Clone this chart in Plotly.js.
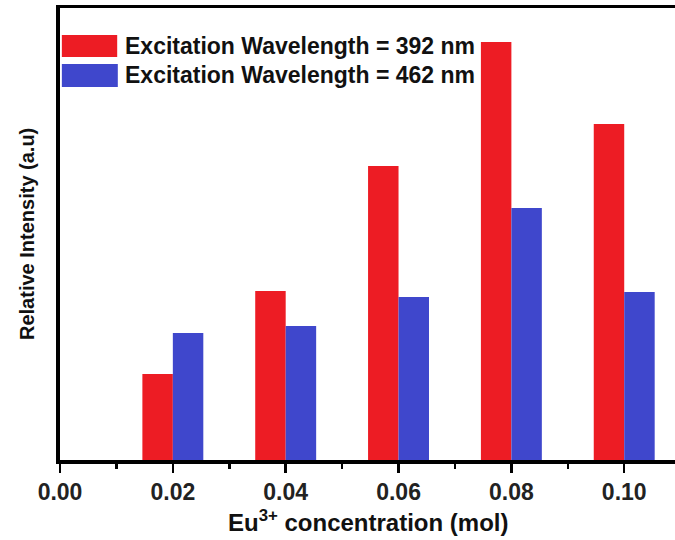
<!DOCTYPE html>
<html>
<head>
<meta charset="utf-8">
<script src="https://cdn.plot.ly/plotly-3.0.1.min.js"></script>
<style>html,body{margin:0;padding:0;background:#fff;overflow:hidden;}#chart{width:675px;height:540px;}</style>
</head>
<body>
<div id="chart"></div>
<script>
// Data
const concentrations = [0.02, 0.04, 0.06, 0.08, 0.10];
const intensity392 = [86, 169, 294, 418, 336];
const intensity462 = [127, 134, 163, 252, 168];
const seriesNames = ["Excitation Wavelength = 392 nm", "Excitation Wavelength = 462 nm"];
const tickValues = [0, 0.02, 0.04, 0.06, 0.08, 0.10];
const tickLabels = ["0.00", "0.02", "0.04", "0.06", "0.08", "0.10"];

const RED = "#ED1C24";
const BLUE = "#3F47CC";
const FONT = "Liberation Sans, Arial, sans-serif";
const BW = 0.0054;

const traces = [
  {type: "bar", x: concentrations, y: intensity392, name: seriesNames[0],
   width: BW, offset: -BW, marker: {color: RED, line: {width: 0}}},
  {type: "bar", x: concentrations, y: intensity462, name: seriesNames[1],
   width: BW, offset: 0, marker: {color: BLUE, line: {width: 0}}}
];

const layout = {
  width: 675, height: 540,
  margin: {l: 60, r: 0, t: 8, b: 80},
  paper_bgcolor: "#fff", plot_bgcolor: "#fff",
  showlegend: false,
  barmode: "overlay",
  font: {family: FONT, color: "#000"},
  xaxis: {
    range: [0, 0.109],
    tickvals: tickValues, ticktext: tickLabels,
    ticks: "outside", ticklen: 9, tickwidth: 2.5, tickcolor: "#000",
    minor: {dtick: 0.01, tick0: 0, ticks: "outside", ticklen: 5, tickwidth: 2.5, tickcolor: "#000"},
    showline: true, linewidth: 3.5, linecolor: "#000", mirror: true,
    showgrid: false, zeroline: false,
    tickfont: {family: FONT, size: 23, weight: 700, color: "#222"}
  },
  yaxis: {
    range: [0, 452],
    showticklabels: false, ticks: "",
    showline: true, linewidth: 4, linecolor: "#000",
    showgrid: false, zeroline: false
  },
  shapes: [
    {type: "rect", xref: "paper", yref: "paper", x0: 0.003, x1: 0.093, y0: 0.8916, y1: 0.9403,
     fillcolor: RED, line: {width: 0}},
    {type: "rect", xref: "paper", yref: "paper", x0: 0.003, x1: 0.094, y0: 0.8252, y1: 0.8761,
     fillcolor: BLUE, line: {width: 0}}
  ],
  annotations: [
    {xref: "paper", yref: "paper", x: 0.1024, y: 0.916, xanchor: "left", yanchor: "middle",
     text: seriesNames[0], showarrow: false, font: {family: FONT, size: 23, weight: 700, color: "#111"}},
    {xref: "paper", yref: "paper", x: 0.1024, y: 0.852, xanchor: "left", yanchor: "middle",
     text: seriesNames[1], showarrow: false, font: {family: FONT, size: 23, weight: 700, color: "#111"}},
    {xref: "paper", yref: "paper", x: 0.5, y: 0, yshift: -61, xanchor: "center", yanchor: "middle",
     text: "Eu<sup>3+</sup> concentration (mol)", showarrow: false,
     font: {family: FONT, size: 24, weight: 700, color: "#111"}},
    {xref: "paper", yref: "paper", x: 0, xshift: -33, y: 0.5, xanchor: "center", yanchor: "middle",
     textangle: -90, text: "Relative Intensity (a.u)", showarrow: false,
     font: {family: FONT, size: 20, weight: 700, color: "#111"}}
  ]
};

Plotly.newPlot("chart", traces, layout, {staticPlot: true, displayModeBar: false});
</script>
</body>
</html>
